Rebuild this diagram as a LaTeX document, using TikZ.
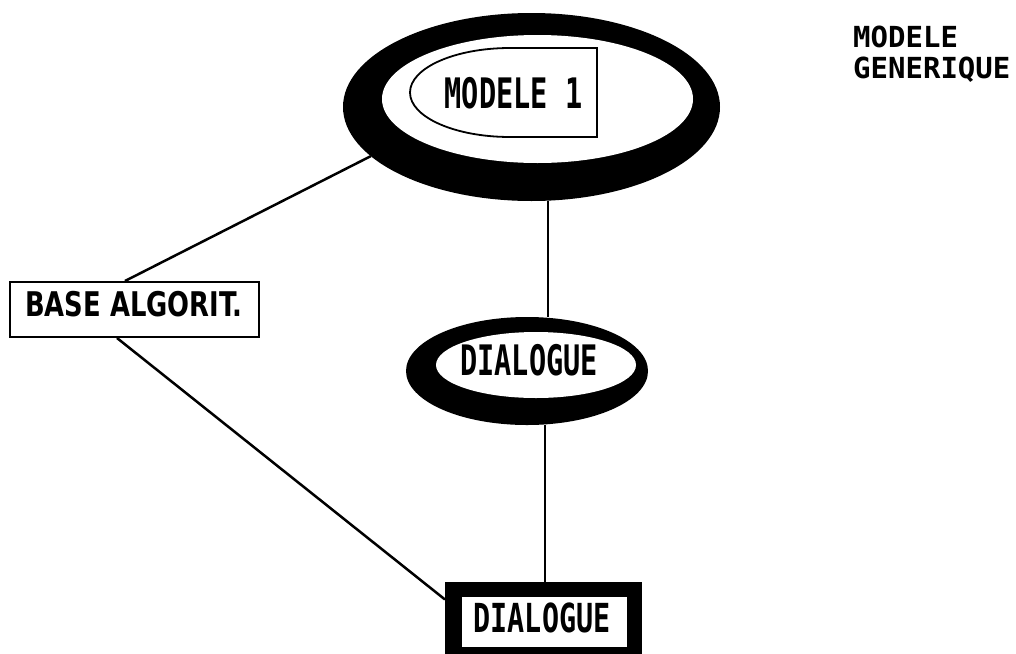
\documentclass[tikz,border=0pt]{standalone}
\usepackage{fontspec}
\usepackage{graphicx}
\usetikzlibrary{shapes.geometric}
\newfontfamily\pix{DejaVu Sans Mono}
\newfontfamily\sansb{DejaVu Sans}
\begin{document}
\begin{tikzpicture}[x=1pt,y=-1pt,
  ring/.style={ellipse, fill=black, inner sep=0pt, outer sep=0pt},
  hole/.style={ellipse, fill=white, inner sep=0pt, outer sep=0pt},
  conn/.style={line width=2.5pt},
  bigtxt/.style={font=\pix\bfseries\fontsize{42}{42}\selectfont, inner sep=0pt},
  boxtxt/.style={font=\sansb\bfseries\fontsize{34}{34}\selectfont, inner sep=0pt},
  titletxt/.style={font=\pix\bfseries\fontsize{29}{31}\selectfont, inner sep=0pt, align=left}]
\useasboundingbox (0,0) rectangle (1016,653);
% big ellipse
\node[ring, minimum width=377pt, minimum height=188pt] (m1) at (531.5,107) {};
\node[hole, minimum width=311pt, minimum height=128pt] (m1in) at (537.5,99) {};
\draw[line width=1.8pt] (597,48) -- (510,48) arc[start angle=270, end angle=90, x radius=100, y radius=44.5] -- (597,137) -- cycle;
\node[bigtxt] (m1t) at (513.5,93) {\scalebox{0.68}[1]{MODELE 1}};
% dialogue ellipse
\node[ring, minimum width=242pt, minimum height=108pt] (d1) at (527,371) {};
\node[hole, minimum width=200pt, minimum height=66pt] (d1in) at (536,365) {};
\node[bigtxt] (d1t) at (529,360) {\scalebox{0.68}[1]{DIALOGUE}};
% dialogue box
\node[fill=black, minimum width=197pt, minimum height=72pt, inner sep=0pt, outer sep=0pt] (d2) at (543.5,617.5) {};
\node[fill=white, minimum width=165pt, minimum height=50pt, inner sep=0pt, outer sep=0pt] (d2in) at (544.5,622) {};
\node[font=\pix\bfseries\fontsize{40}{40}\selectfont, inner sep=0pt] (d2t) at (542,618) {\scalebox{0.71}[1]{DIALOGUE}};
% base algorit box
\node[draw, line width=2pt, minimum width=249pt, minimum height=55pt, inner sep=0pt] (base) at (134.5,309.5) {};
\node[boxtxt] (baset) at (134,304.5) {\scalebox{0.76}[1]{BASE ALGORIT.}};
% title
\node[titletxt, anchor=north west] (title) at (853,26) {MODELE\\GENERIQUE};
% connectors
\coordinate (v1) at (548,0);
\coordinate (v2) at (545,0);
\draw[conn] ([xshift=-9.5pt]base.north) -- (m1.197);
\draw[conn] ([xshift=-17.5pt]base.south) -- ([yshift=-18pt]d2.north west);
\draw[conn] (m1.south -| v1) -- (d1.north -| v1);
\draw[conn] (d1.south -| v2) -- (d2.north -| v2);
\end{tikzpicture}
\end{document}
